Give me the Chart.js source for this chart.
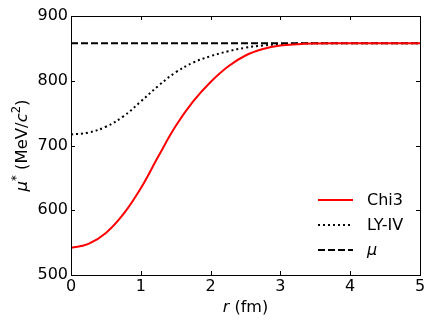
<!DOCTYPE html>
<html>
<head>
<meta charset="utf-8">
<script src="https://cdn.jsdelivr.net/npm/chart.js@4.4.0/dist/chart.umd.min.js"></script>
<style>
  html, body { margin: 0; padding: 0; background: #fff; }
</style>
</head>
<body>
<canvas id="plot" width="436" height="327"></canvas>
<script>
// radius in fm
const rValues = [0, 0.25, 0.5, 0.75, 1.0, 1.25, 1.5, 1.75, 2.0, 2.25, 2.5,
                 2.75, 3.0, 3.25, 3.5, 3.75, 4.0, 4.25, 4.5, 4.75, 5.0];
// mu* in MeV/c^2
const chi3 = [542, 548, 565, 594, 634, 683, 730, 768, 798, 822, 839,
              849, 854.5, 856.5, 857.5, 858, 858, 858, 858, 858, 858];
const lyIV = [717, 720, 729, 745, 768, 792, 813, 828, 838, 845.5, 851,
              854.5, 856.5, 857.5, 858, 858, 858, 858, 858, 858, 858];
const muR = [0, 5];
const muValues = [858, 858];

const seriesNames = ['Chi3', 'LY-IV', 'μ'];
const xTicks = [0, 1, 2, 3, 4, 5];
const yTicks = [500, 600, 700, 800, 900];

const FONT = '"DejaVu Sans", sans-serif';

function pairs(xs, ys) {
  return xs.map((x, i) => ({ x: x, y: ys[i] }));
}

// draws text made of pieces: {t, it, sup}
function richText(ctx, parts, x, y, size) {
  let total = 0;
  const widths = parts.map(p => {
    ctx.font = (p.it ? 'italic ' : '') + (p.sup ? size * 0.7 : size) + 'px ' + FONT;
    const w = ctx.measureText(p.t).width;
    total += w;
    return w;
  });
  let cx = x - total / 2;
  parts.forEach((p, i) => {
    ctx.font = (p.it ? 'italic ' : '') + (p.sup ? size * 0.7 : size) + 'px ' + FONT;
    ctx.fillText(p.t, cx, p.sup ? y - size * 0.42 : y);
    cx += widths[i];
  });
}

const framePlugin = {
  id: 'frame',
  afterDraw(chart) {
    const ctx = chart.ctx;
    const a = chart.chartArea;
    const xs = chart.scales.x;
    const ys = chart.scales.y;
    ctx.save();
    ctx.strokeStyle = '#000';
    ctx.lineWidth = 1;
    ctx.beginPath();
    xTicks.forEach(t => {
      const px = Math.round(xs.getPixelForValue(t)) + 0.5;
      ctx.moveTo(px, a.bottom); ctx.lineTo(px, a.bottom - 4);
      ctx.moveTo(px, a.top); ctx.lineTo(px, a.top + 4);
    });
    yTicks.forEach(t => {
      const py = Math.round(ys.getPixelForValue(t)) + 0.5;
      ctx.moveTo(a.left, py); ctx.lineTo(a.left + 4, py);
      ctx.moveTo(a.right, py); ctx.lineTo(a.right - 4, py);
    });
    ctx.stroke();
    ctx.strokeRect(Math.round(a.left) + 0.5, Math.round(a.top) + 0.5,
                   Math.round(a.right - a.left), Math.round(a.bottom - a.top));

    // axis titles
    ctx.fillStyle = '#000';
    ctx.textBaseline = 'alphabetic';
    ctx.textAlign = 'left';
    richText(ctx, [{ t: 'r', it: true }, { t: ' (fm)' }], (a.left + a.right) / 2, 312, 16);
    ctx.save();
    ctx.translate(27, (a.top + a.bottom) / 2);
    ctx.rotate(-Math.PI / 2);
    richText(ctx, [{ t: 'μ', it: true }, { t: '*', sup: true }, { t: ' (MeV/' },
                   { t: 'c', it: true }, { t: '2', sup: true }, { t: ')' }], 0, 0, 16.5);
    ctx.restore();

    // legend
    chart.data.datasets.forEach((ds, i) => {
      const ly = 200 + i * 25;
      ctx.save();
      ctx.strokeStyle = ds.borderColor;
      ctx.lineWidth = ds.borderWidth;
      ctx.setLineDash(ds.borderDash || []);
      ctx.beginPath();
      ctx.moveTo(318, ly); ctx.lineTo(353, ly);
      ctx.stroke();
      ctx.restore();
      ctx.font = (ds.label === 'μ' ? 'italic ' : '') + '16px ' + FONT;
      ctx.textBaseline = 'middle';
      ctx.fillText(ds.label, 367, ly + 1);
    });
    ctx.restore();
  }
};

new Chart(document.getElementById('plot'), {
  type: 'line',
  data: {
    datasets: [{
      label: seriesNames[0],
      data: pairs(rValues, chi3),
      borderColor: '#ff0000',
      borderWidth: 2,
      pointRadius: 0,
      tension: 0.4
    }, {
      label: seriesNames[1],
      data: pairs(rValues, lyIV),
      borderColor: '#000000',
      borderWidth: 2,
      borderDash: [2, 3],
      borderCapStyle: 'butt',
      pointRadius: 0,
      tension: 0.4
    }, {
      label: seriesNames[2],
      data: pairs(muR, muValues),
      borderColor: '#000000',
      borderWidth: 2,
      borderDash: [7, 3],
      pointRadius: 0
    }]
  },
  options: {
    responsive: false,
    animation: false,
    devicePixelRatio: 1,
    layout: { padding: { top: 16, right: 16, left: 0, bottom: 0 } },
    plugins: {
      legend: { display: false },
      tooltip: { enabled: false }
    },
    scales: {
      x: {
        type: 'linear',
        min: 0,
        max: 5,
        afterFit: s => { s.height = 52; },
        afterBuildTicks: s => { s.ticks = xTicks.map(v => ({ value: v })); },
        ticks: { color: '#000', font: { family: FONT, size: 16 }, padding: 2, maxRotation: 0 },
        grid: { display: false, drawTicks: false },
        border: { display: false }
      },
      y: {
        type: 'linear',
        min: 500,
        max: 900,
        afterFit: s => { s.width = 71; },
        afterBuildTicks: s => { s.ticks = yTicks.map(v => ({ value: v })); },
        ticks: { color: '#000', font: { family: FONT, size: 16 }, padding: 3 },
        grid: { display: false, drawTicks: false },
        border: { display: false }
      }
    }
  },
  plugins: [framePlugin]
});
</script>
</body>
</html>
